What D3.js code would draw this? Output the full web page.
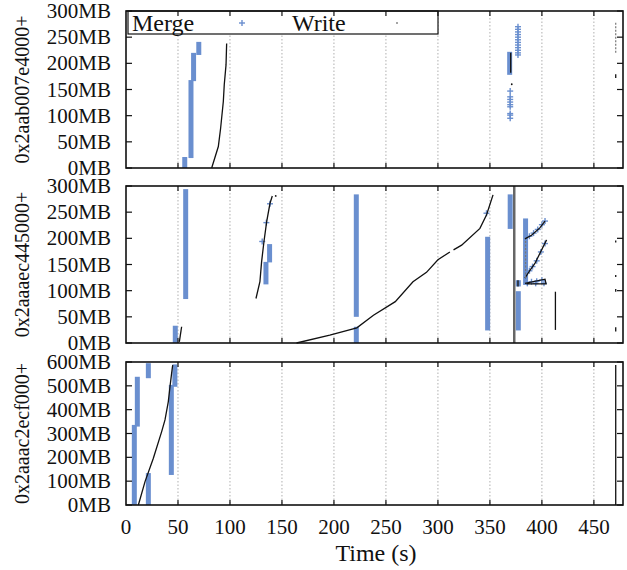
<!DOCTYPE html>
<html><head><meta charset="utf-8">
<script src="https://cdn.jsdelivr.net/npm/d3@7"></script>
<style>body{margin:0;background:#fff}svg{display:block}</style>
</head><body><svg id="c" width="627" height="570" font-family="Liberation Serif, Times New Roman, Times, serif"></svg>
<script>
// ---- data ----
const seriesNames = ["Merge", "Write"];
const xTicks = [0, 50, 100, 150, 200, 250, 300, 350, 400, 450];
const xTitle = "Time (s)";
const panelLabels = ["0x2aab007e4000+", "0x2aaaec445000+", "0x2aaac2ecf000+"];
const yTicks1 = [0, 50, 100, 150, 200, 250, 300];
const yTicks2 = [0, 50, 100, 150, 200, 250, 300];
const yTicks3 = [0, 100, 200, 300, 400, 500, 600];

// Merge: dense runs [time, fromMB, toMB]
const mergeRuns1 = [[56.5,0,21],[62.5,19,168],[65,166,220],[70,216,241],[369,178,222]];
const mergeRuns2 = [[47.4,0,33],[57.4,84,294],[134.6,112,155],[138.1,154,189],[221.5,50,284],[221.5,0,31],
  [347.8,24,203],[369.5,218,284],[377.3,24,99],[377.3,108,120],[384.3,111,238]];
const mergeRuns3 = [[8,0,336],[10.9,329,538],[21.5,532,595],[21.5,0,134],[43.6,126,504],[47,496,590]];
// Merge: isolated points [time, MB]
const mergePts1 = [[377,270],[377,265],[377,260],[377,255],[377,250],[377,245],[377,240],[377,235],[377,230],
  [377,225],[377,220],[377,216],[369.5,147],[369.5,136],[369.5,131],[369.5,126],[369.5,121],[369.5,117],
  [369.5,104],[369.5,101],[369.5,95]];
const mergePts2 = [[131,194],[135,230],[138.5,266],[346.7,248],[388,204],[392,210],[396,217],[400,226],[403,233],
  [388,138],[391,146],[395,157],[399,174],[403,190],[390,117],[395,118],[400,120],[386,114],[394,114],[402,114]];
const mergePts3 = [];
// Write: traces [[time, MB], ...]
const write1 = [
  [[82.4,0],[88.8,41],[91,76],[93.6,127],[94.5,159],[96.2,197],[96.8,238]],
  [[370,182],[370,220]],
  [[471,172],[471,179]]
];
const writeFaint1 = [[[471,220],[471,280]]];
const writeDots1 = [[371,160]];
const write2 = [
  [[51.3,2],[53.5,31]],
  [[125,85],[128.8,117],[130.4,155],[132.7,194],[135.3,232],[138.5,267],[140.7,281]],
  [[164,0],[196,15],[222,29],[238,53],[259,79],[276,117],[289,135],[300,159],[311.5,174]],
  [[315,178],[322.8,187],[340.4,219],[346.8,245],[353,283]],
  [[383.7,199],[390,206],[398,220],[403,233]],
  [[383.7,124],[388.5,139],[393.3,152],[398,171],[404.5,197]],
  [[383.7,114],[403,122],[404,113],[385.3,113]],
  [[413,25],[413,98]],
  [[377,108],[377,120]],
  [[471,192],[471,196]],[[471,126],[471,130]],[[471,98],[471,103]],[[471,22],[471,30]]
];
const writeHeavy2 = [[[373.4,0],[373.4,300]]];
const writeFaint2 = [[[384.3,124],[384.3,195]]];
const writeDots2 = [[144,281]];
const write3 = [
  [[11.9,0],[18.3,98],[26.3,196],[34.3,308],[37.5,357],[40.7,434],[42.3,496],[43.9,553],[44.9,587]],
  [[471,0],[471,587]]
];

const panels = [
  {top:11, bottom:168, ymax:300, ticks:yTicks1, label:panelLabels[0], runs:mergeRuns1, pts:mergePts1, write:write1, faint:writeFaint1, heavy:[], dots:writeDots1},
  {top:186, bottom:343, ymax:300, ticks:yTicks2, label:panelLabels[1], runs:mergeRuns2, pts:mergePts2, write:write2, faint:writeFaint2, heavy:writeHeavy2, dots:writeDots2},
  {top:362, bottom:505, ymax:600, ticks:yTicks3, label:panelLabels[2], runs:mergeRuns3, pts:mergePts3, write:write3, faint:[], heavy:[], dots:[]}
];

// ---- drawing ----
const svg = d3.select("#c");
const L = 126, R = 623;
const blue = "#6a8fcf";
const x = d3.scaleLinear().domain([0, 478]).range([L, R]);

panels.forEach((p, i) => {
  const y = d3.scaleLinear().domain([0, p.ymax]).range([p.bottom, p.top]);
  const g = svg.append("g");
  g.selectAll("line.grid").data(xTicks.filter(t => t > 0)).enter().append("line")
    .attr("x1", d => x(d)).attr("x2", d => x(d)).attr("y1", p.top).attr("y2", p.bottom)
    .attr("stroke", "#9a9a9a").attr("stroke-width", 0.8).attr("stroke-dasharray", "1.5,2");
  if (i === 0) {
    g.append("rect").attr("x", 128).attr("y", p.top).attr("width", 310).attr("height", 23)
      .attr("fill", "#fff").attr("stroke", "#111").attr("stroke-width", 1.2);
  }
  g.selectAll("line.run").data(p.runs).enter().append("line")
    .attr("x1", d => x(d[0])).attr("x2", d => x(d[0])).attr("y1", d => y(d[1])).attr("y2", d => y(d[2]))
    .attr("stroke", blue).attr("stroke-width", 5);
  const plus = g.selectAll("g.pl").data(p.pts).enter().append("g")
    .attr("transform", d => `translate(${x(d[0])},${y(d[1])})`);
  plus.append("line").attr("x1", -3).attr("x2", 3).attr("stroke", blue).attr("stroke-width", 1.4);
  plus.append("line").attr("y1", -3).attr("y2", 3).attr("stroke", blue).attr("stroke-width", 1.4);
  const line = d3.line().x(d => x(d[0])).y(d => y(d[1]));
  g.selectAll("path.w").data(p.write).enter().append("path").attr("d", line)
    .attr("fill", "none").attr("stroke", "#111").attr("stroke-width", 1.3);
  g.selectAll("path.wf").data(p.faint).enter().append("path").attr("d", line)
    .attr("fill", "none").attr("stroke", "#777").attr("stroke-width", 1.2).attr("stroke-dasharray", "2,1.5");
  g.selectAll("path.wh").data(p.heavy).enter().append("path").attr("d", line)
    .attr("fill", "none").attr("stroke", "#666").attr("stroke-width", 2.5);
  g.selectAll("circle.wd").data(p.dots).enter().append("circle")
    .attr("cx", d => x(d[0])).attr("cy", d => y(d[1])).attr("r", 0.9).attr("fill", "#111");
  g.append("rect").attr("x", L).attr("y", p.top).attr("width", R - L).attr("height", p.bottom - p.top)
    .attr("fill", "none").attr("stroke", "#111").attr("stroke-width", 1.6);
  xTicks.filter(t => t > 0).forEach(t => {
    g.append("line").attr("x1", x(t)).attr("x2", x(t)).attr("y1", p.bottom).attr("y2", p.bottom - 5).attr("stroke", "#111").attr("stroke-width", 1.2);
    g.append("line").attr("x1", x(t)).attr("x2", x(t)).attr("y1", p.top).attr("y2", p.top + 5).attr("stroke", "#111").attr("stroke-width", 1.2);
  });
  p.ticks.forEach(t => {
    g.append("line").attr("x1", L).attr("x2", L + 6).attr("y1", y(t)).attr("y2", y(t)).attr("stroke", "#111").attr("stroke-width", 1.2);
    g.append("line").attr("x1", R).attr("x2", R - 6).attr("y1", y(t)).attr("y2", y(t)).attr("stroke", "#111").attr("stroke-width", 1.2);
    g.append("text").attr("x", 111).attr("y", y(t)).attr("dy", "0.34em").attr("text-anchor", "end")
      .attr("font-size", 21).attr("fill", "#111").text(t + "MB");
  });
  g.append("text").attr("transform", `translate(29,${(p.top + p.bottom) / 2}) rotate(-90)`)
    .attr("text-anchor", "middle").attr("font-size", 20).attr("fill", "#111").text(p.label);
});

svg.selectAll("text.xt").data(xTicks).enter().append("text")
  .attr("x", d => x(d)).attr("y", 534).attr("text-anchor", "middle").attr("font-size", 21).attr("fill", "#111").text(d => d);
svg.append("text").attr("x", 376).attr("y", 561).attr("text-anchor", "middle").attr("font-size", 24).attr("fill", "#111").text(xTitle);

svg.append("text").attr("x", 132).attr("y", 31).attr("font-size", 24).attr("fill", "#111").text(seriesNames[0]);
const lp = svg.append("g").attr("transform", "translate(242,23)");
lp.append("line").attr("x1", -3).attr("x2", 3).attr("stroke", blue).attr("stroke-width", 1.4);
lp.append("line").attr("y1", -3).attr("y2", 3).attr("stroke", blue).attr("stroke-width", 1.4);
svg.append("text").attr("x", 292).attr("y", 31).attr("font-size", 24).attr("fill", "#111").text(seriesNames[1]);
svg.append("circle").attr("cx", 397).attr("cy", 23).attr("r", 0.8).attr("fill", "#333");
</script></body></html>
